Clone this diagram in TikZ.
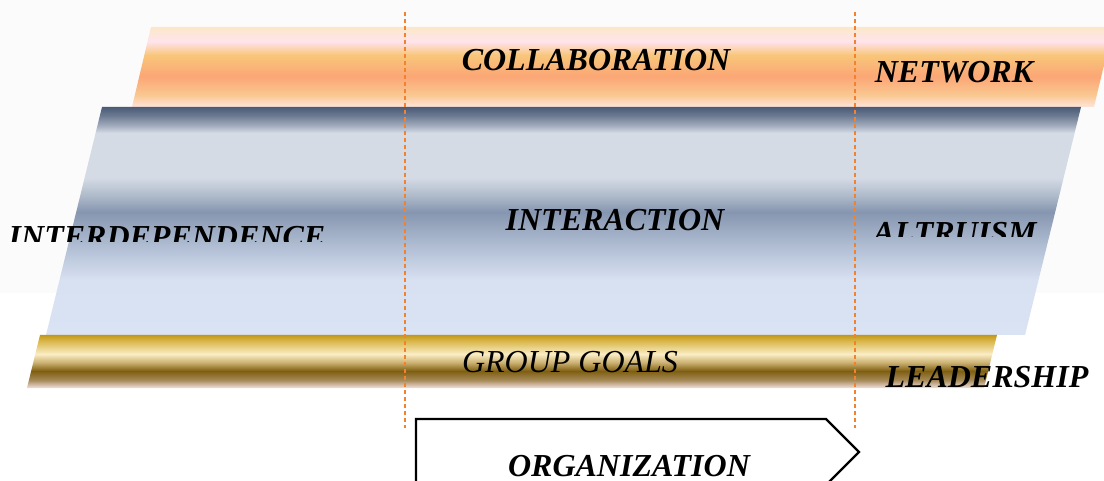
\documentclass[tikz,border=0pt]{standalone}
\usepackage{fontspec}
\setmainfont{Liberation Serif}
\usetikzlibrary{calc}

% band colours
\definecolor{bggray}{HTML}{FBFBFC}
\definecolor{guide}{HTML}{F2822E}
\definecolor{oA}{HTML}{FCE8C8}
\definecolor{oB}{HTML}{FFE4EE}
\definecolor{oC}{HTML}{F8C67A}
\definecolor{oD}{HTML}{FBA676}
\definecolor{oE}{HTML}{FAC890}
\definecolor{oF}{HTML}{FFE4DC}
\definecolor{bA}{HTML}{4B5B76}
\definecolor{bB}{HTML}{6A7890}
\definecolor{bC}{HTML}{A0AABB}
\definecolor{bD}{HTML}{D5DBE5}
\definecolor{bE}{HTML}{B0BBCB}
\definecolor{bF}{HTML}{8696B0}
\definecolor{bG}{HTML}{A8B6CC}
\definecolor{bH}{HTML}{D8E1F2}
\definecolor{bI}{HTML}{DAE3F3}
\definecolor{gA}{HTML}{C39818}
\definecolor{gB}{HTML}{D8B445}
\definecolor{gC}{HTML}{FAEDC4}
\definecolor{gD}{HTML}{CBB070}
\definecolor{gE}{HTML}{7E5E10}
\definecolor{gF}{HTML}{A68A58}
\definecolor{gG}{HTML}{F4E0DE}

% vertical shadings: the path spans 25bp (bottom) to 75bp (top)
\pgfdeclareverticalshading{orangeband}{100bp}{%
  color(0bp)=(oF); color(25bp)=(oF); color(32.5bp)=(oE); color(44bp)=(oD);
  color(57.5bp)=(oC); color(66bp)=(oB); color(75bp)=(oA); color(100bp)=(oA)}
\pgfdeclareverticalshading{blueband}{100bp}{%
  color(0bp)=(bI); color(25bp)=(bI); color(37bp)=(bH); color(46bp)=(bG);
  color(52bp)=(bF); color(55.7bp)=(bE); color(59.5bp)=(bD); color(69.3bp)=(bD);
  color(71bp)=(bC); color(73.2bp)=(bB); color(75bp)=(bA); color(100bp)=(bA)}
\pgfdeclareverticalshading{goldband}{100bp}{%
  color(0bp)=(gG); color(25bp)=(gG); color(32.5bp)=(gF); color(41bp)=(gE);
  color(49bp)=(gD); color(57bp)=(gC); color(70bp)=(gB); color(75bp)=(gA);
  color(100bp)=(gA)}

\tikzset{
  label/.style={inner sep=0pt, anchor=base, font=\fontsize{32}{38}\selectfont\bfseries\itshape},
  plainlabel/.style={label, font=\fontsize{32}{38}\selectfont\itshape},
  guideline/.style={draw=guide, line width=1.3pt, dash pattern=on 4pt off 3pt},
  arrowbox/.style={draw=black, line width=2.4pt, fill=white, line join=miter}
}

\begin{document}
\begin{tikzpicture}[x=1pt, y=-1pt]
  \useasboundingbox (0,0) rectangle (1104,481);
  \fill[white] (0,0) rectangle (1104,481);
  \fill[bggray] (0,0) rectangle (1104,293);

  % three slanted bands
  \shade[shading=orangeband] (151,27) -- (1113,27) -- (1094,107) -- (132,107) -- cycle;
  \shade[shading=blueband] (102,107) -- (1081,107) -- (1025,335) -- (46,335) -- cycle;
  \shade[shading=goldband] (40,335) -- (997,335) -- (984,388) -- (27,388) -- cycle;

  % band labels
  \node[label] (collab) at (596,71) {COLLABORATION};
  \node[label] (network) at (954,83) {NETWORK};
  \node[label] (interact) at (615,231) {INTERACTION};
  \begin{scope}
    \clip (0,0) rectangle (400,242);
    \node[label] (interdep) at (167,248) {INTERDEPENDENCE};
  \end{scope}
  \begin{scope}
    \clip (840,0) rectangle (1104,237);
    \node[label] (altruism) at (955,244) {ALTRUISM};
  \end{scope}
  \node[plainlabel] (goals) at (570,373) {GROUP GOALS};
  \node[label] (leader) at (987,387) {LEADERSHIP};

  % dashed guides
  \coordinate (gl top) at (405,12);
  \coordinate (gl bot) at (405,428);
  \coordinate (gr top) at (855,12);
  \coordinate (gr bot) at (855,428);
  \draw[guideline] (gl top) -- (gl bot);
  \draw[guideline] (gr top) -- (gr bot);

  % organization arrow
  \draw[arrowbox] (416,485) -- (416,419) -- (826,419) -- (859,452) -- (826,485);
  \begin{scope}
    \clip (400,400) rectangle (880,477);
    \node[label] (org) at (629,476) {ORGANIZATION};
  \end{scope}
\end{tikzpicture}
\end{document}
